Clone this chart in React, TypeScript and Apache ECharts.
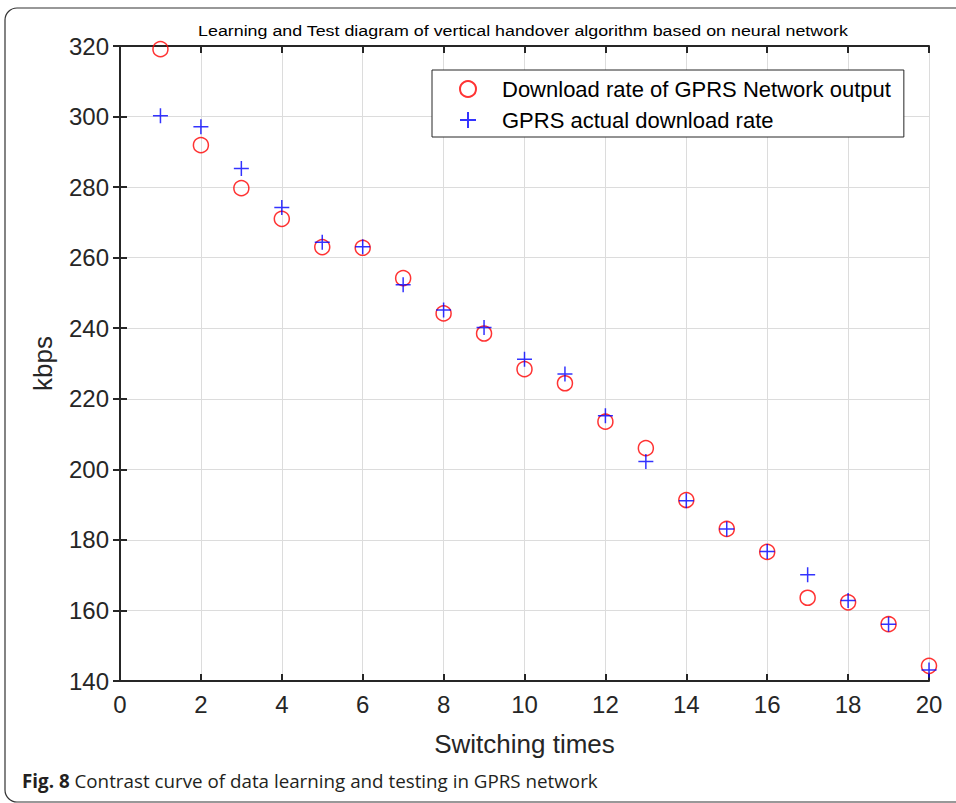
import React, { useEffect, useRef } from "react";
import * as echarts from "echarts";

const switchingTimes = [1, 2, 3, 4, 5, 6, 7, 8, 9, 10, 11, 12, 13, 14, 15, 16, 17, 18, 19, 20];
const networkOutput = [319.1, 291.9, 279.7, 271.0, 263.0, 262.8, 254.2, 244.2, 238.5, 228.4, 224.4, 213.5, 206.0, 191.3, 183.1, 176.6, 163.6, 162.3, 156.1, 144.3];
const actualRate = [300.2, 297.1, 285.3, 274.2, 264.4, 263.1, 252.3, 245.2, 240.2, 231.2, 227.0, 215.2, 202.2, 191.1, 183.1, 176.7, 170.1, 162.8, 156.1, 143.1];
const seriesNames = ["Download rate of GPRS Network output", "GPRS actual download rate"];
const titleText = "Learning and Test diagram of vertical handover algorithm based on neural network";
const xName = "Switching times";
const yName = "kbps";
const captionBold = "Fig. 8";
const captionText = " Contrast curve of data learning and testing in GPRS network";

const FONT = "'Liberation Sans', Arial, Helvetica, sans-serif";
const CROSS = "path://M0,-10L0,10M-10,0L10,0";

export default function App() {
  const ref = useRef<HTMLDivElement>(null);
  useEffect(() => {
    if (!ref.current) return;
    const chart = echarts.init(ref.current, null, { renderer: "svg" });
    const gridLeft = 120, gridTop = 46, gridW = 809, gridH = 635;
    const axisLineStyle = { color: "#262626", width: 2 };
    const option: any = {
      animation: false,
      backgroundColor: "#fff",
      grid: { left: gridLeft, top: gridTop, width: gridW, height: gridH },
      legend: {
        orient: "vertical",
        left: 432,
        top: 70,
        borderColor: "#262626",
        borderWidth: 1,
        backgroundColor: "#fff",
        padding: [8, 13, 6, 27],
        itemGap: 9,
        itemWidth: 16,
        itemHeight: 16,
        textStyle: { fontFamily: FONT, fontSize: 22, lineHeight: 22, color: "#000", padding: [0, 0, 0, 21] },
        data: seriesNames,
      },
      xAxis: [
        {
          type: "value",
          min: 0,
          max: 20,
          interval: 2,
          name: xName,
          nameLocation: "middle",
          nameGap: 50,
          nameTextStyle: { fontFamily: FONT, fontSize: 26, color: "#262626" },
          axisLine: { show: true, lineStyle: axisLineStyle },
          axisTick: { show: true, inside: true, length: 7, lineStyle: axisLineStyle },
          axisLabel: { fontFamily: FONT, fontSize: 24, color: "#262626", margin: 11 },
          splitLine: { show: true, lineStyle: { color: "#dcdcdc", width: 1 } },
        },
        {
          type: "value",
          position: "top",
          min: 0,
          max: 20,
          interval: 2,
          axisLine: { show: true, lineStyle: axisLineStyle },
          axisTick: { show: true, inside: true, length: 7, lineStyle: axisLineStyle },
          axisLabel: { show: false },
          splitLine: { show: false },
        },
      ],
      yAxis: [
        {
          type: "value",
          min: 140,
          max: 320,
          interval: 20,
          name: yName,
          nameLocation: "middle",
          nameGap: 64,
          nameRotate: 90,
          nameTextStyle: { fontFamily: FONT, fontSize: 26, color: "#262626" },
          axisLine: { show: true, lineStyle: axisLineStyle },
          axisTick: { show: true, inside: true, length: 7, lineStyle: axisLineStyle },
          axisLabel: { fontFamily: FONT, fontSize: 24, color: "#262626", margin: 11 },
          splitLine: { show: true, lineStyle: { color: "#dcdcdc", width: 1 } },
        },
        {
          type: "value",
          position: "right",
          min: 140,
          max: 320,
          interval: 20,
          axisLine: { show: true, lineStyle: axisLineStyle },
          axisTick: { show: true, inside: true, length: 7, lineStyle: axisLineStyle },
          axisLabel: { show: false },
          splitLine: { show: false },
        },
      ],
      series: [
        {
          name: seriesNames[0],
          type: "scatter",
          symbol: "circle",
          symbolSize: 15,
          itemStyle: { color: "rgba(0,0,0,0)", borderColor: "#ff0000", borderWidth: 1.5 },
          data: switchingTimes.map((x, i) => [x, networkOutput[i]]),
          z: 3,
        },
        {
          name: seriesNames[1],
          type: "scatter",
          symbol: CROSS,
          symbolSize: 15,
          itemStyle: { color: "rgba(0,0,0,0)", borderColor: "#0000ff", borderWidth: 1.5 },
          data: switchingTimes.map((x, i) => [x, actualRate[i]]),
          z: 4,
        },
      ],
      graphic: [
        {
          type: "rect",
          shape: { x: 5, y: 8, width: 1000, height: 794, r: 12 },
          style: { fill: "none", stroke: "#333", lineWidth: 1.2 },
          silent: true,
          z: -1,
        },
        {
          type: "text",
          x: 523,
          y: 31,
          scaleX: 1.19,
          style: {
            text: titleText,
            fontFamily: FONT,
            fontSize: 15,
            fill: "#000",
            textAlign: "center",
            textVerticalAlign: "middle",
          },
        },
        {
          type: "text",
          left: 22,
          top: 771,
          style: {
            text: "{b|" + captionBold + "}{n|" + captionText + "}",
            rich: {
              b: { fontFamily: "'Open Sans', sans-serif", fontSize: 18.8, fontWeight: "bold", fill: "#231f20" },
              n: { fontFamily: "'Open Sans', sans-serif", fontSize: 18.8, fill: "#231f20" },
            },
          },
        },
      ],
    };
    chart.setOption(option);
    return () => chart.dispose();
  }, []);
  return (
    <div
      ref={ref}
      style={{ position: "absolute", left: 0, top: 0, width: 956, height: 803, background: "#fff" }}
    />
  );
}
